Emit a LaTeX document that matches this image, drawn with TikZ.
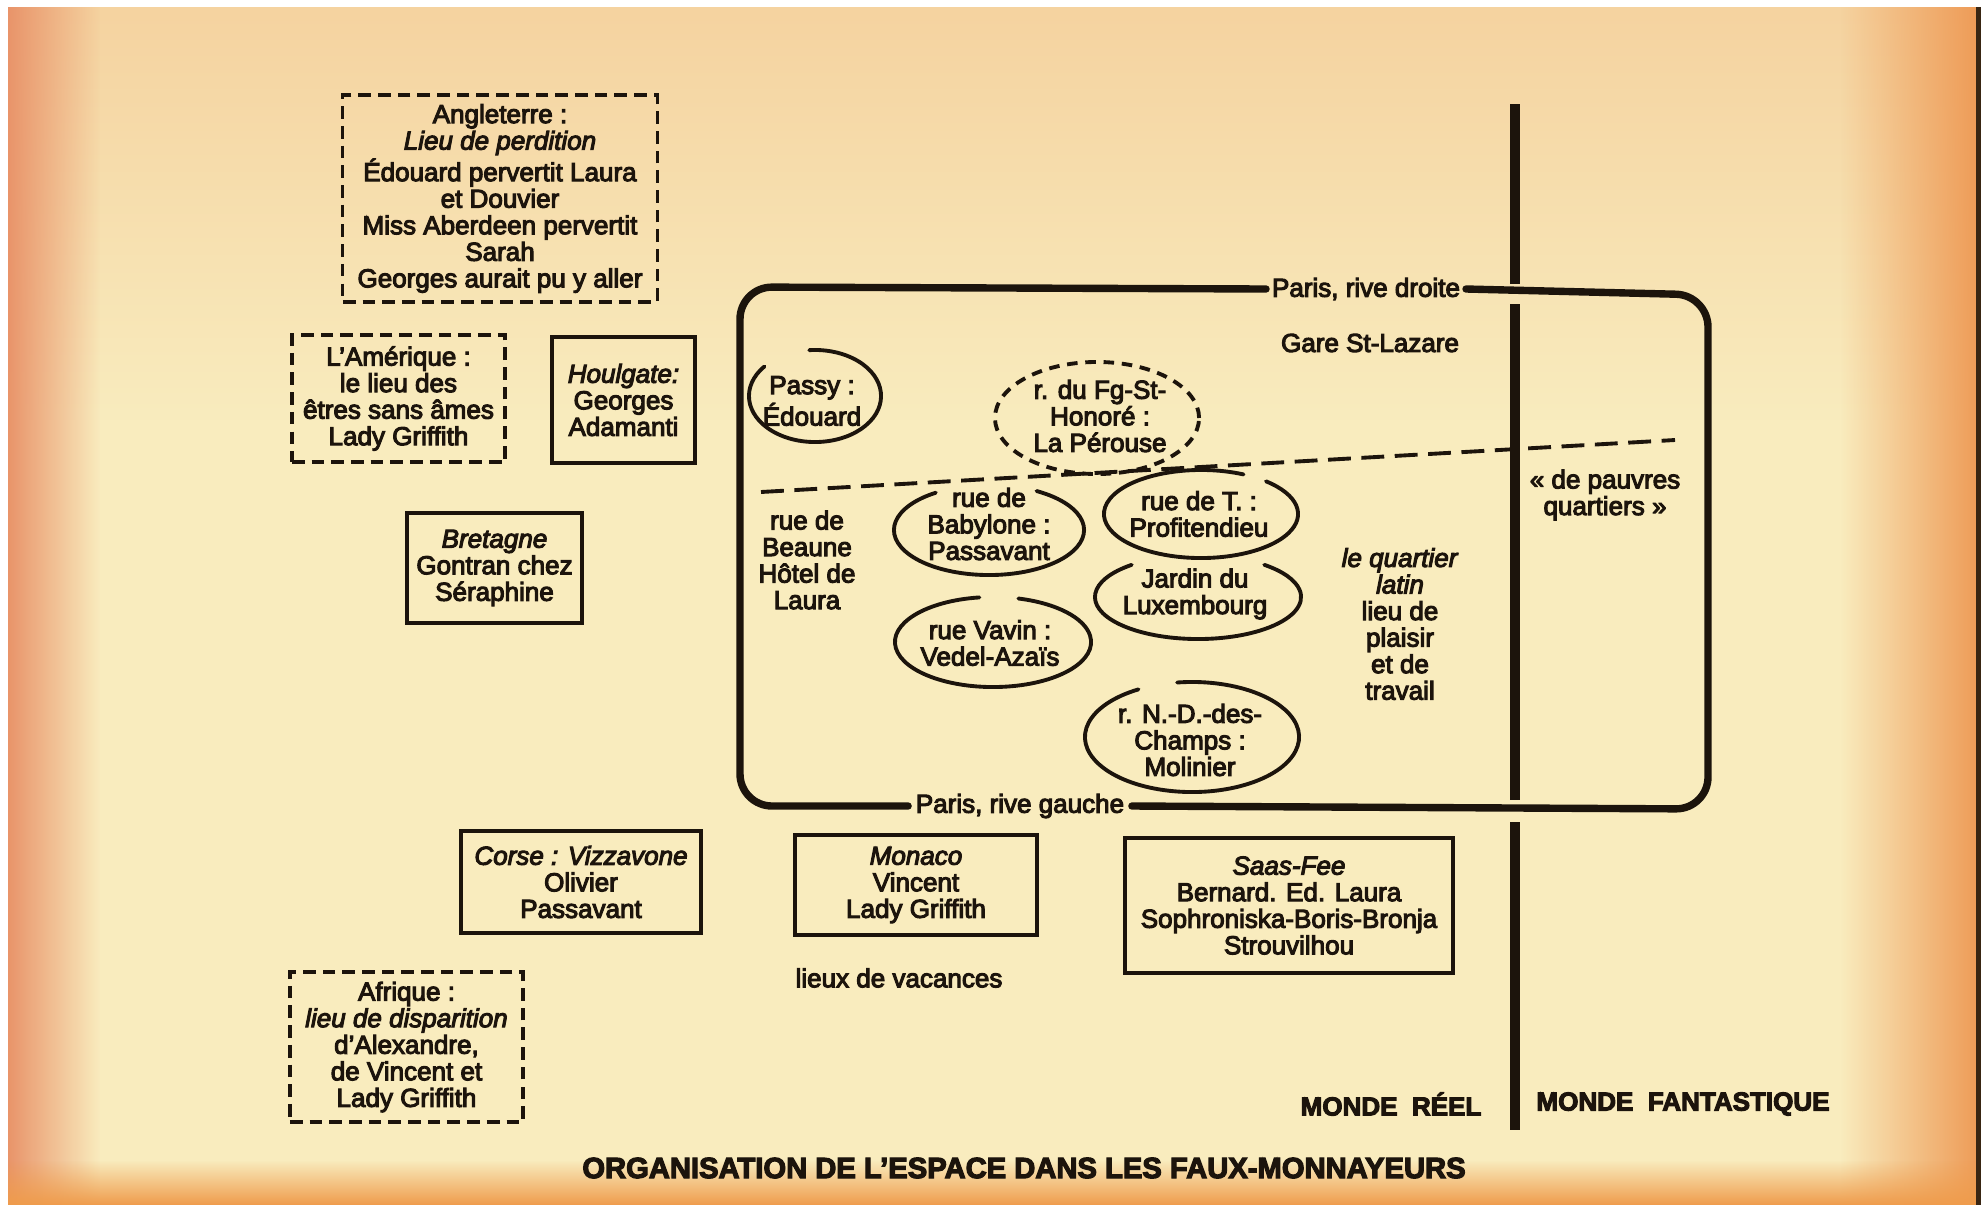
\documentclass[tikz,border=0pt]{standalone}
\usepackage{fontspec}
\setmainfont{Liberation Sans}[FakeBold=4]
\usetikzlibrary{fadings}
\definecolor{paper}{HTML}{F9ECBE}
\definecolor{peach}{HTML}{F5D3A0}
\definecolor{edgeL}{HTML}{E9946A}
\definecolor{edgeR}{HTML}{EE9A55}
\definecolor{edgeB}{HTML}{EF9C4C}
\definecolor{ink}{HTML}{1C140C}
\tikzfading[name=fadeDown, top color=transparent!0, bottom color=transparent!100]
\tikzfading[name=fadeUp, top color=transparent!100, bottom color=transparent!0]
\tikzfading[name=fadeToRight, left color=transparent!0, right color=transparent!100]
\tikzfading[name=fadeToLeft, left color=transparent!100, right color=transparent!0]
\begin{document}
\begin{tikzpicture}[x=0.01cm,y=-0.01cm,
  every node/.style={text=ink, font=\fontsize{7.4}{7.55}\selectfont, inner sep=0pt, align=center},
  solidbox/.style={draw=ink, line width=1pt, inner sep=0pt},
  dashbox/.style={draw=ink, line width=0.9pt, dash pattern=on 3.6pt off 2pt, inner sep=0pt},
  ell/.style={draw=ink, line width=1.1pt, line cap=round},
  pbox/.style={draw=ink, line width=2.1pt, rounded corners=0.32cm, line cap=round},
  sep/.style={draw=ink, line width=1.1pt, dash pattern=on 6.5pt off 3pt},
  wall/.style={draw=ink, line width=2.6pt},
  caps/.style={font=\fontsize{7.4}{7.55}\selectfont\bfseries}
]
% ---- paper background ----
\useasboundingbox (0,0) rectangle (1986,1209);
\fill[white] (0,0) rectangle (1986,1209);
\fill[paper] (8,7) rectangle (1981,1205);
\fill[peach, path fading=fadeDown] (8,7) rectangle (1981,420);
\fill[edgeL, path fading=fadeToRight] (8,7) rectangle (100,1205);
\fill[edgeR, path fading=fadeToLeft] (1840,7) rectangle (1981,1205);
\fill[edgeB, path fading=fadeUp] (8,1160) rectangle (1981,1205);
\fill[black!70!brown] (1976,7) rectangle (1981,1205);

% ---- outer boxes ----
\node[dashbox, minimum width=3.14cm, minimum height=2.07cm] (ang) at (500,198.5)
  {Angleterre :\\ \textit{Lieu de perdition}\\ Édouard pervertit Laura\\ et Douvier\\ Miss Aberdeen pervertit\\ Sarah\\ Georges aurait pu y aller};
\node[dashbox, minimum width=2.13cm, minimum height=1.27cm] (ame) at (398.5,398.5)
  {L’Amérique :\\ le lieu des\\ êtres sans âmes\\ Lady Griffith};
\node[solidbox, minimum width=1.43cm, minimum height=1.26cm] (hou) at (623.5,400)
  {\textit{Houlgate:}\\ Georges\\ Adamanti};
\node[solidbox, minimum width=1.75cm, minimum height=1.10cm] (bre) at (494.5,568)
  {\textit{Bretagne}\\ Gontran chez\\ Séraphine};
\node[solidbox, minimum width=2.40cm, minimum height=1.02cm] (cor) at (581,882)
  {\textit{Corse : Vizzavone}\\ Olivier\\ Passavant};
\node[solidbox, minimum width=2.42cm, minimum height=1.00cm] (mon) at (916,885)
  {\textit{Monaco}\\ Vincent\\ Lady Griffith};
\node[solidbox, minimum width=3.28cm, minimum height=1.35cm] (saa) at (1289,905.5)
  {\textit{Saas-Fee}\\ Bernard. Ed. Laura\\ Sophroniska-Boris-Bronja\\ Strouvilhou};
\node[dashbox, minimum width=2.33cm, minimum height=1.50cm] (afr) at (406.5,1047)
  {Afrique :\\ \textit{lieu de disparition}\\ d’Alexandre,\\ de Vincent et\\ Lady Griffith};
\node (vac) at (899,978) {lieux de vacances};

% ---- Paris box ----
\node[inner xsep=1.5pt] (droite) at (1366,289) {Paris, rive droite};
\node[inner xsep=2pt] (gauche) at (1020,806) {Paris, rive gauche};
\coordinate (tl) at (740,287);
\coordinate (bl) at (740,806);
\coordinate (br) at (1708,809);
\coordinate (tr) at (1708,295);
\draw[pbox] (droite.west) -- (tl) -- (bl) -- (gauche.west);
\draw[pbox] (gauche.east) -- (br) -- (tr) -- (droite.east);
\node (gare) at (1370,343) {Gare St-Lazare};

% dashed separator
\coordinate (sepL) at (761,492);
\coordinate (sepR) at (1675,440);
\draw[sep] (sepL) -- (sepR);

% ---- quarters ----
\node (passy) at (812,401) {Passy :\\ Édouard};
\coordinate (passyC) at (815,396);
\draw[ell] (passyC) ++(140:0.66cm and 0.46cm) arc[start angle=140, end angle=455, x radius=0.66cm, y radius=0.46cm];

\node (fg) at (1100,416) {r. du Fg-St-\\ Honoré :\\ La Pérouse};
\coordinate (fgC) at (1097,418);
\draw[ell, line cap=butt, dash pattern=on 3pt off 2.2pt] (fgC) ellipse [x radius=1.02cm, y radius=0.56cm];

\node (bab) at (989,524) {rue de\\ Babylone :\\ Passavant};
\coordinate (babC) at (989,530);
\draw[ell] (babC) ++(124:0.95cm and 0.45cm) arc[start angle=124, end angle=420, x radius=0.95cm, y radius=0.45cm];

\node (rdt) at (1199,514) {rue de T. :\\ Profitendieu};
\coordinate (rdtC) at (1201,514);
\draw[ell] (rdtC) ++(64:0.97cm and 0.44cm) arc[start angle=64, end angle=408, x radius=0.97cm, y radius=0.44cm];

\node (jar) at (1195,594) {Jardin du\\ Luxembourg};
\coordinate (jarC) at (1198,597);
\draw[ell] (jarC) ++(130:1.03cm and 0.42cm) arc[start angle=130, end angle=410, x radius=1.03cm, y radius=0.42cm];

\node (vav) at (990,643) {rue Vavin :\\ Vedel-Azaïs};
\coordinate (vavC) at (993,642);
\draw[ell] (vavC) ++(98:0.98cm and 0.45cm) arc[start angle=98, end angle=435, x radius=0.98cm, y radius=0.45cm];

\node (ndc) at (1190,740) {r. N.-D.-des-\\ Champs :\\ Molinier};
\coordinate (ndcC) at (1192,737);
\draw[ell] (ndcC) ++(120:1.07cm and 0.55cm) arc[start angle=120, end angle=458, x radius=1.07cm, y radius=0.55cm];

\node (bea) at (807,560) {rue de\\ Beaune\\ Hôtel de\\ Laura};
\node (qla) at (1400,624) {\textit{le quartier}\\ \textit{latin}\\ lieu de\\ plaisir\\ et de\\ travail};
\node (pau) at (1605,495) {« de pauvres\\ quartiers »};

% ---- dividing wall ----
\coordinate (v1) at (1515,104);
\coordinate (v2) at (1515,284);
\coordinate (v3) at (1515,304);
\coordinate (v4) at (1515,800);
\coordinate (v5) at (1515,822);
\coordinate (v6) at (1515,1130);
\draw[wall] (v1) -- (v2);
\draw[wall] (v3) -- (v4);
\draw[wall] (v5) -- (v6);

\node[caps] (mr) at (1391,1104) {MONDE\ \ RÉEL};
\node[caps] (mf) at (1683,1104) {MONDE\ \ FANTASTIQUE};
\node[font=\fontsize{8.3}{9}\selectfont\bfseries] (org) at (1024,1168) {ORGANISATION DE L’ESPACE DANS LES FAUX-MONNAYEURS};
\end{tikzpicture}
\end{document}
